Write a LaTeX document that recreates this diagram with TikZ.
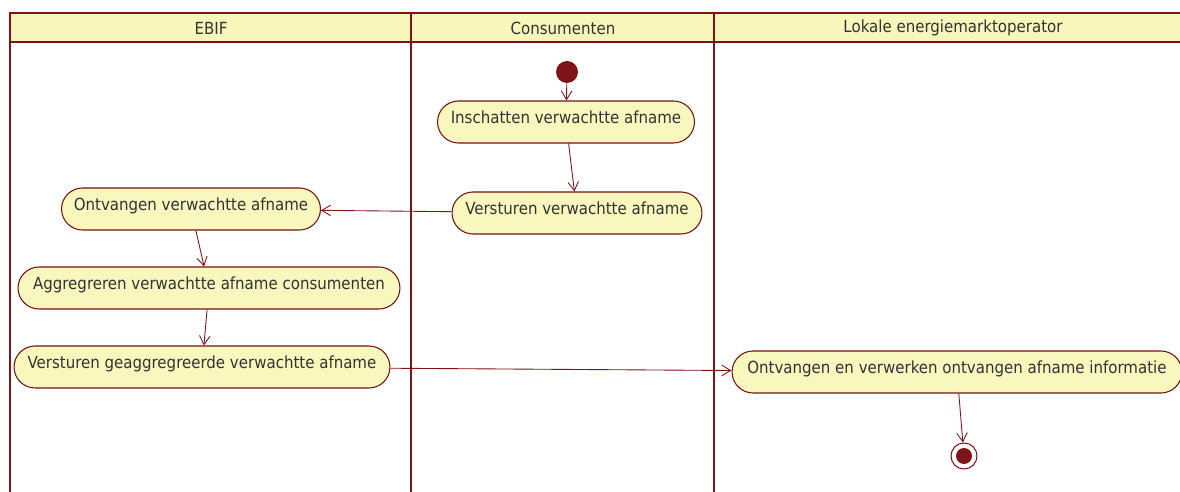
\documentclass[tikz,border=0pt]{standalone}
\usepackage{fontspec}
\setmainfont{DejaVu Sans Condensed}
\usetikzlibrary{arrows.meta}
\definecolor{lanered}{HTML}{7E1418}
\definecolor{pillfill}{HTML}{F9F7BE}
\definecolor{headfill}{HTML}{F8F6BA}
\definecolor{txt}{HTML}{333333}
\begin{document}
\begin{tikzpicture}[x=0.02cm,y=-0.02cm,
  action/.style={draw=lanered!90!black, line width=0.6pt, fill=pillfill,
    rounded corners=0.42cm, minimum height=0.84cm, inner sep=0pt,
    text height=7pt, text depth=5pt,
    text=txt, font=\fontsize{9.5pt}{11pt}\selectfont},
  flow/.style={draw=lanered, line width=0.5pt, -{Straight Barb[length=5pt,width=6pt]}},
  lane/.style={draw=lanered, line width=1.5pt},
  rule/.style={draw=lanered, line width=1.1pt},
  head/.style={text=txt, font=\fontsize{9.5pt}{11pt}\selectfont}]
\useasboundingbox (0,0) rectangle (1180,492);
% header band
\fill[headfill] (10,13) rectangle (1180,42);
\draw[rule] (1180,13) -- (10,13);
\draw[rule] (10,42) -- (1180,42);
\draw[lane] (10,12.5) -- (10,492);
\draw[lane] (411,12.5) -- (411,492);
\draw[lane] (714,12.5) -- (714,492);
\node[head] (hA) at (211,28) {EBIF};
\node[head] (hB) at (563,28) {Consumenten};
\node[head] (hC) at (953,28) {Lokale energiemarktoperator};
% start and end
\node[circle, fill=lanered, minimum size=0.44cm, inner sep=0pt] (start) at (567,72) {};
\node[circle, draw=lanered, line width=0.6pt, fill=white, minimum size=0.52cm, inner sep=0pt] (stop) at (964,456) {};
\fill[lanered] (stop.center) circle (0.16cm);
% actions
\node[action, minimum width=5.14cm] (inschat) at (566,122) {Inschatten verwachtte afname};
\node[action, minimum width=5.0cm] (verstC) at (577,213) {Versturen verwachtte afname};
\node[action, minimum width=5.18cm] (ontvE) at (191,209) {Ontvangen verwachtte afname};
\node[action, minimum width=7.64cm] (aggr) at (209,288) {Aggregreren verwachtte afname consumenten};
\node[action, minimum width=7.52cm] (verstE) at (202,367) {Versturen geaggregreerde verwachtte afname};
\node[action, minimum width=9.0cm] (ontvL) at (957,372) {Ontvangen en verwerken ontvangen afname informatie};
% control flow
\draw[flow] (start) -- (inschat);
\draw[flow] (inschat) -- (verstC);
\draw[flow] (verstC) -- (ontvE);
\draw[flow] (ontvE) -- (aggr);
\draw[flow] (aggr) -- (verstE);
\draw[flow] (verstE) -- (ontvL);
\draw[flow] (ontvL) -- (stop);
\end{tikzpicture}
\end{document}
